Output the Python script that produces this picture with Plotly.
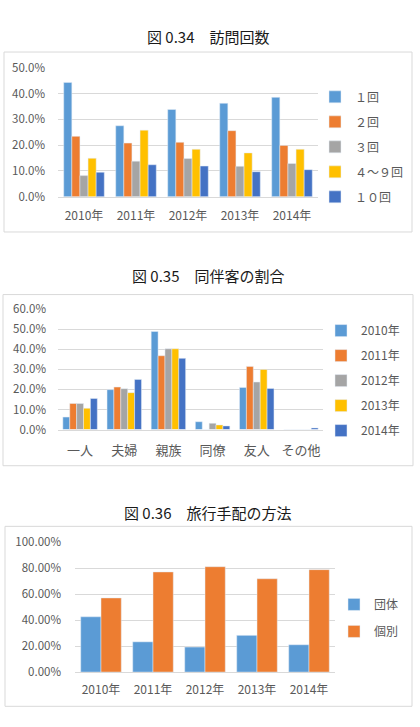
import plotly.graph_objects as go

W, H = 420, 727

# ---------- data ----------
years = ["2010年", "2011年", "2012年", "2013年", "2014年"]

visit_names = ["１回", "２回", "３回", "４〜９回", "１０回"]
visit_1 = [0.443, 0.275, 0.338, 0.362, 0.385]
visit_2 = [0.234, 0.208, 0.211, 0.256, 0.199]
visit_3 = [0.082, 0.138, 0.148, 0.118, 0.129]
visit_4_9 = [0.149, 0.258, 0.184, 0.170, 0.184]
visit_10 = [0.095, 0.124, 0.119, 0.097, 0.105]

companions = ["一人", "夫婦", "親族", "同僚", "友人", "その他"]
comp_2010 = [0.062, 0.199, 0.489, 0.039, 0.210, 0.0]
comp_2011 = [0.130, 0.212, 0.368, 0.0, 0.315, 0.0]
comp_2012 = [0.130, 0.204, 0.403, 0.031, 0.237, 0.0]
comp_2013 = [0.106, 0.184, 0.403, 0.023, 0.300, 0.0]
comp_2014 = [0.155, 0.250, 0.355, 0.018, 0.205, 0.008]

arr_names = ["団体", "個別"]
arr_group = [0.425, 0.2325, 0.1925, 0.2825, 0.210]
arr_indiv = [0.570, 0.770, 0.810, 0.7175, 0.7875]

colors5 = ["#5B9BD5", "#ED7D31", "#A5A5A5", "#FFC000", "#4472C4"]

FONT = "Noto Sans CJK JP"
TICKC = "#595959"
GRID = "#D9D9D9"


def px_x(x):
    return x / W


def px_y(y):
    return 1 - y / H


fig = go.Figure()

# chart 1
for name, vals, c in zip(visit_names, [visit_1, visit_2, visit_3, visit_4_9, visit_10], colors5):
    fig.add_trace(go.Bar(x=years, y=vals, name=name, marker_color=c, xaxis="x", yaxis="y",
                         legend="legend", legendgroup="a" + name))
# chart 2
for name, vals, c in zip(years, [comp_2010, comp_2011, comp_2012, comp_2013, comp_2014], colors5):
    fig.add_trace(go.Bar(x=companions, y=vals, name=name, marker_color=c, xaxis="x2", yaxis="y2",
                         legend="legend2", legendgroup="b" + name))
# chart 3
for name, vals, c in zip(arr_names, [arr_group, arr_indiv], colors5[:2]):
    fig.add_trace(go.Bar(x=years, y=vals, name=name, marker_color=c, xaxis="x3", yaxis="y3",
                         legend="legend3", legendgroup="c" + name))

tickfont = dict(family=FONT, size=11.5, color=TICKC)


def yax(domain, rng, dtick, fmt, anchor, standoff):
    return dict(domain=domain, range=rng, dtick=dtick, tickformat=fmt, anchor=anchor,
                showgrid=True, gridcolor=GRID, gridwidth=1, zeroline=False,
                showline=False, ticks="", tickfont=tickfont, ticklabelstandoff=standoff)


def xax(domain, anchor, size, standoff):
    return dict(domain=domain, anchor=anchor, showline=True, linecolor=GRID, linewidth=1,
                ticks="", tickfont=dict(family=FONT, size=size, color=TICKC),
                ticklabelstandoff=standoff)


def leg(x, y, gap):
    return dict(x=px_x(x), y=px_y(y), xanchor="left", yanchor="top", bgcolor="rgba(0,0,0,0)",
                font=dict(family=FONT, size=12, color=TICKC), traceorder="grouped",
                tracegroupgap=gap, itemwidth=30)


fig.update_layout(
    width=W, height=H, margin=dict(l=0, r=0, t=0, b=0),
    paper_bgcolor="white", plot_bgcolor="white",
    barmode="group", bargap=0.22, bargroupgap=0,
    font=dict(family=FONT),
    xaxis=xax([px_x(58), px_x(318)], "y", 12, 8),
    yaxis=yax([px_y(192), px_y(60)], [0, 0.5], 0.1, ".1%", "x", 12),
    xaxis2=xax([px_x(58), px_x(323)], "y2", 13, 9),
    yaxis2=yax([px_y(430), px_y(307)], [0, 0.6], 0.1, ".1%", "x2", 11),
    xaxis3=xax([px_x(75), px_x(335)], "y3", 12, 7),
    yaxis3=yax([px_y(678), px_y(545)], [0, 1.0], 0.2, ".2%", "x3", 13),
    legend=leg(315, 75, 6),
    legend2=leg(321, 314, 6),
    legend3=leg(334, 594, 8),
)
fig.update_layout(bargap=0.22)
fig.update_xaxes(selector=dict(anchor="y3"))

# titles
titles = [("図 0.34　訪問回数", 28), ("図 0.35　同伴客の割合", 272), ("図 0.36　旅行手配の方法", 515)]
for t, y in titles:
    fig.add_annotation(text=t, x=px_x(208), y=px_y(y), xref="paper", yref="paper",
                       showarrow=False, xanchor="center", yanchor="middle",
                       font=dict(family=FONT, size=15, color="#1a1a1a"))

# chart frames
for x0, y0, x1, y1 in [(4, 44, 412, 228), (3, 292, 413, 467), (5, 529, 412, 713)]:
    fig.add_shape(type="rect", xref="paper", yref="paper",
                  x0=px_x(x0), x1=px_x(x1), y0=px_y(y1), y1=px_y(y0),
                  line=dict(color=GRID, width=1), layer="below")

fig.write_html("out.html")
